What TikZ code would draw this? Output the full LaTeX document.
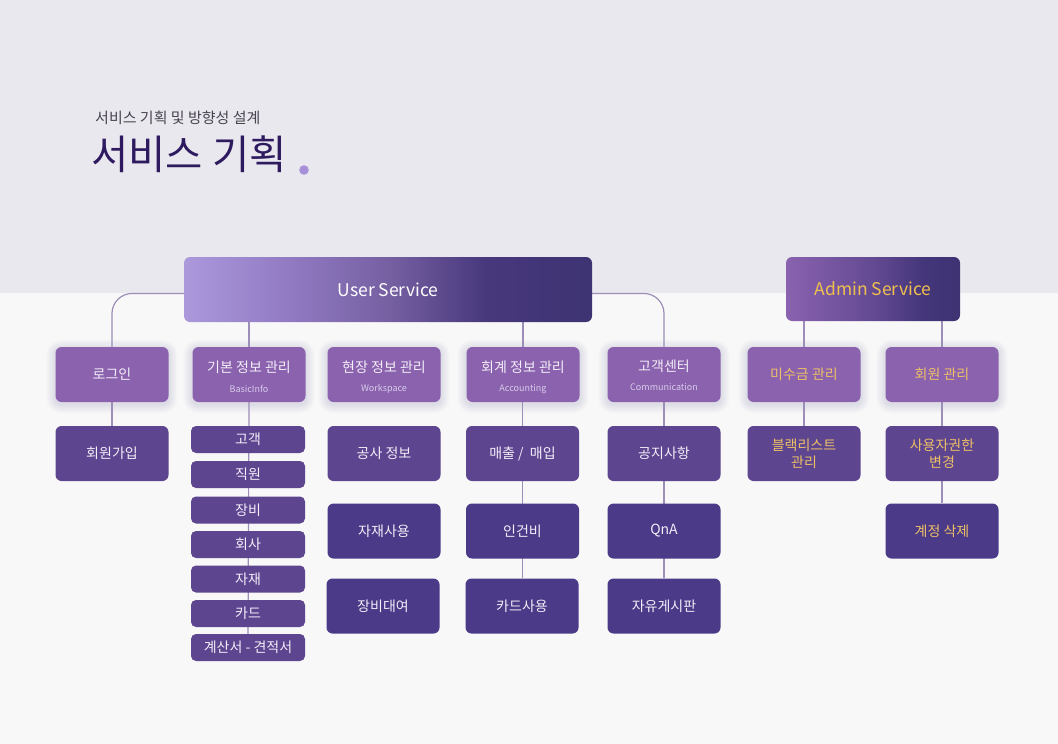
\documentclass[tikz,border=0pt]{standalone}
\usepackage{fontspec}
\setmainfont{Noto Sans CJK KR}
\usetikzlibrary{backgrounds}
\pgfdeclarelayer{bg}
\pgfsetlayers{bg,background,main}
\definecolor{topbg}{HTML}{EAE8EF}
\definecolor{botbg}{HTML}{F8F8F8}
\definecolor{titlecol}{HTML}{2E1A5E}
\definecolor{subtitlecol}{HTML}{47434F}
\definecolor{dotcol}{HTML}{A890D8}
\definecolor{uA}{HTML}{AB99DC}
\definecolor{uB}{HTML}{937CC4}
\definecolor{uC}{HTML}{7660A2}
\definecolor{uD}{HTML}{47387C}
\definecolor{uE}{HTML}{3E3373}
\definecolor{aA}{HTML}{8A62AF}
\definecolor{aB}{HTML}{634A92}
\definecolor{aC}{HTML}{433579}
\definecolor{lvtwo}{HTML}{8B62AE}
\definecolor{lvthreeA}{HTML}{5E4590}
\definecolor{lvthreeB}{HTML}{4B3A88}
\definecolor{txtw}{HTML}{F3EEF8}
\definecolor{subtxt}{HTML}{D9CCEA}
\definecolor{gold}{HTML}{F0C04E}
\definecolor{goldtxt}{HTML}{EDC066}
\definecolor{conncol}{HTML}{9C8EB8}
\definecolor{glowcol}{HTML}{7A6AA6}
\pgfdeclarehorizontalshading{usershade}{100bp}{color(0bp)=(uA); color(25bp)=(uA); color(37bp)=(uB); color(50bp)=(uC); color(62bp)=(uD); color(75bp)=(uE); color(100bp)=(uE)}
\pgfdeclarehorizontalshading{adminshade}{100bp}{color(0bp)=(aA); color(25bp)=(aA); color(50bp)=(aB); color(65bp)=(aC); color(75bp)=(uE); color(100bp)=(uE)}
\tikzset{
  lvltwo/.style={rectangle, rounded corners=6pt, fill=lvtwo, minimum width=113pt, minimum height=55pt, inner sep=0pt, text=txtw, font=\fontsize{14}{16}\selectfont, align=center},
  lvltwoadm/.style={lvltwo, text=goldtxt},
  maintxt/.style={inner sep=0pt, text=txtw, font=\fontsize{14}{16}\selectfont},
  subtxtnode/.style={inner sep=0pt, text=subtxt, font=\fontsize{9}{10}\selectfont},
  lvthreeAbox/.style={rectangle, rounded corners=6pt, fill=lvthreeA, minimum width=113pt, minimum height=55pt, inner sep=0pt, text=txtw, font=\fontsize{14}{17}\selectfont, align=center},
  lvthreeBbox/.style={lvthreeAbox, fill=lvthreeB},
  lvthreeAadm/.style={lvthreeAbox, text=goldtxt},
  lvthreeBadm/.style={lvthreeBbox, text=goldtxt},
  smallbox/.style={rectangle, rounded corners=5pt, fill=lvthreeA, minimum width=114pt, minimum height=27pt, inner sep=0pt, text=txtw, font=\fontsize{14}{15}\selectfont},
  conn/.style={draw=conncol, line width=1.2pt},
}
\begin{document}
\begin{tikzpicture}[x=1pt, y=-1pt]
\begin{pgfonlayer}{bg}
  \fill[botbg] (0,0) rectangle (1058,744);
  \fill[topbg] (0,0) rectangle (1058,293);
\end{pgfonlayer}
\useasboundingbox (0,0) rectangle (1058,744);

% titles
\node[anchor=west, inner sep=0pt, text=subtitlecol, font=\fontsize{15}{17}\selectfont] (subtitle) at (95,118) {서비스 기획 및 방향성 설계};
\node[anchor=west, inner sep=0pt, text=titlecol, font=\fontsize{40.5}{44}\selectfont] (title) at (91,154) {서비스 기획};
\fill[dotcol] (304,170) circle (4.8pt);

% top boxes
\node[rectangle, rounded corners=6pt, shading=usershade, minimum width=408pt, minimum height=65pt, inner sep=0pt, text=white, font=\fontsize{17.5}{20}\selectfont] (user) at (388,289.5) {User Service};
\node[rectangle, rounded corners=6pt, shading=adminshade, minimum width=174pt, minimum height=64pt, inner sep=0pt, text=gold, font=\fontsize{17.5}{20}\selectfont] (admin) at (873,289) {Admin Service};
\coordinate (hub) at (388,293.5);

% level 2
\node[lvltwo] (login) at (112,374.5) {로그인};
\node[lvltwo] (basic) at (249,374.5) {};
\node[maintxt] (basicT) at (249,367) {기본 정보 관리};
\node[subtxtnode] (basicS) at (249,389) {BasicInfo};
\node[lvltwo] (work) at (384,374.5) {};
\node[maintxt] (workT) at (384,367) {현장 정보 관리};
\node[subtxtnode] (workS) at (384,389) {Workspace};
\node[lvltwo] (acct) at (523,374.5) {};
\node[maintxt] (acctT) at (523,367) {회계 정보 관리};
\node[subtxtnode] (acctS) at (523,389) {Accounting};
\node[lvltwo] (cs) at (664,374.5) {};
\node[maintxt] (csT) at (664,366.5) {고객센터};
\node[subtxtnode] (csS) at (664,387.5) {Communication};
\node[lvltwoadm] (unpaid) at (804,374.5) {미수금 관리};
\node[lvltwoadm] (member) at (942,374.5) {회원 관리};

% level 3
\node[lvthreeAbox] (signup) at (112,453.5) {회원가입};
\node[smallbox] (s1) at (248,439.5) {고객};
\node[smallbox] (s2) at (248,474.5) {직원};
\node[smallbox] (s3) at (248,510) {장비};
\node[smallbox] (s4) at (248,544.5) {회사};
\node[smallbox] (s5) at (248,579) {자재};
\node[smallbox] (s6) at (248,613.5) {카드};
\node[smallbox] (s7) at (248,647.5) {계산서 - 견적서};
\node[lvthreeAbox] (site) at (384,453.5) {공사 정보};
\node[lvthreeBbox] (matuse) at (384,531) {자재사용};
\node[lvthreeBbox] (equip) at (383,606) {장비대여};
\node[lvthreeAbox] (sales) at (522.5,453.5) {매출 /\ \ 매입};
\node[lvthreeBbox] (labor) at (522.5,531) {인건비};
\node[lvthreeBbox] (cardu) at (522,606) {카드사용};
\node[lvthreeAbox] (notice) at (664,453.5) {공지사항};
\node[lvthreeBbox] (qna) at (664,531) {QnA};
\node[lvthreeBbox] (free) at (664,606) {자유게시판};
\node[lvthreeAadm] (black) at (804,453.5) {블랙리스트\\관리};
\node[lvthreeAadm] (perm) at (942,453.5) {사용자권한\\변경};
\node[lvthreeBadm] (del) at (942,531) {계정 삭제};

\begin{pgfonlayer}{background}
  \foreach \n in {login,basic,work,acct,cs,unpaid,member}{
    \foreach \r [evaluate=\r as \rr using 6+\r, evaluate=\r as \ya using -\r-2, evaluate=\r as \yb using \r-2] in {1,2,...,9}{
      \fill[glowcol, opacity=0.02, rounded corners=\rr pt] ([xshift=-\r pt,yshift=\ya pt]\n.south west) rectangle ([xshift=\r pt,yshift=\yb pt]\n.north east);
    }
  }
  \draw[conn, rounded corners=20pt] (login.north) |- (hub) -| (cs.north);
  \draw[conn] (user.south -| basic.north) -- (basic.north);
  \draw[conn] (user.south -| acct.north) -- (acct.north);
  \draw[conn] (admin.south -| unpaid.north) -- (unpaid.north);
  \draw[conn] (admin.south -| member.north) -- (member.north);
  \draw[conn] (login.south) -- (signup.north);
  \draw[conn] (basic.south) -- (s7.north);
  \draw[conn] (acct.south -| sales.north) -- (cardu.north -| sales.north);
  \draw[conn] (cs.south) -- (free.north);
  \draw[conn] (unpaid.south) -- (black.north);
  \draw[conn] (member.south) -- (del.north);
\end{pgfonlayer}
\end{tikzpicture}
\end{document}
